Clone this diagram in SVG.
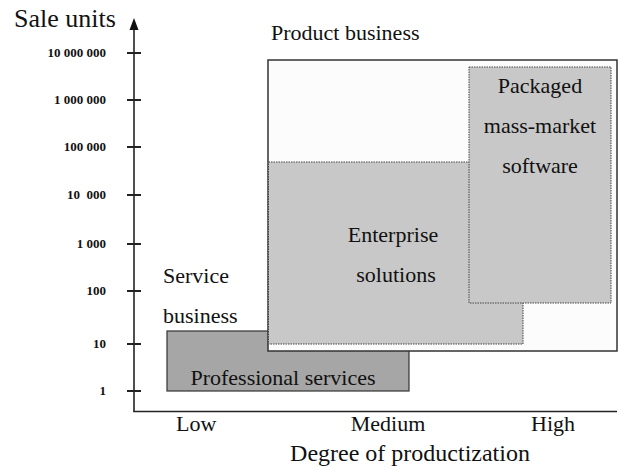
<svg xmlns="http://www.w3.org/2000/svg" width="618" height="470" viewBox="0 0 618 470">
<style>
text{font-family:"Liberation Serif","Times New Roman",serif;fill:#111}
.big{font-size:22px}
.tl{font-size:13px;font-weight:bold;text-anchor:end;white-space:pre}
.mid{text-anchor:middle}
.zone{fill:#c8c8c8;stroke:#444;stroke-width:1;stroke-dasharray:1.5 1}
.ax{stroke:#222;stroke-width:1.6;fill:none}
.tk{stroke:#222;stroke-width:2}
</style>
<rect width="618" height="470" fill="#fff"/>
<g id="axes">
<line class="ax" x1="134" y1="28" x2="134" y2="411.5"/>
<line class="ax" x1="133.2" y1="411.5" x2="617" y2="411.5"/>
<polygon points="134,18 129.5,30 138.5,30" fill="#111"/>
<text x="14" y="27" style="font-size:26px">Sale units</text>
<g>
<line class="tk" x1="127" y1="53" x2="141" y2="53"/>
<line class="tk" x1="127" y1="100" x2="141" y2="100"/>
<line class="tk" x1="127" y1="147" x2="141" y2="147"/>
<line class="tk" x1="127" y1="195" x2="141" y2="195"/>
<line class="tk" x1="127" y1="244" x2="141" y2="244"/>
<line class="tk" x1="127" y1="291" x2="141" y2="291"/>
<line class="tk" x1="127" y1="344" x2="141" y2="344"/>
<line class="tk" x1="127" y1="391" x2="141" y2="391"/>
</g>
<text class="tl" x="106" y="57">10 000 000</text>
<text class="tl" x="106" y="104">1 000 000</text>
<text class="tl" x="106" y="151">100 000</text>
<text class="tl" x="106" y="199">10  000</text>
<text class="tl" x="106" y="248">1 000</text>
<text class="tl" x="106" y="295">100</text>
<text class="tl" x="106" y="348">10</text>
<text class="tl" x="106" y="395">1</text>
<text class="big" x="176" y="431">Low</text>
<text class="big mid" x="388" y="431">Medium</text>
<text class="big mid" x="553" y="431">High</text>
<text x="410" y="461" class="mid" style="font-size:24px">Degree of productization</text>
</g>
<g id="professional-services">
<rect x="167" y="331" width="242" height="60" fill="#a6a6a6" stroke="#333" stroke-width="1.2"/>
<text class="big mid" x="283" y="385">Professional services</text>
</g>
<g id="service-business">
<text class="big" x="163" y="283">Service</text>
<text class="big" x="163" y="323">business</text>
</g>
<g id="product-business">
<rect x="268" y="60" width="349" height="291" fill="#fcfcfc" stroke="#333" stroke-width="1.5"/>
<text class="big" x="271" y="40">Product business</text>
</g>
<g id="enterprise-solutions">
<rect class="zone" x="268.5" y="162" width="254.5" height="182"/>
<text class="big mid" x="393" y="242">Enterprise</text>
<text class="big mid" x="396" y="282">solutions</text>
</g>
<g id="packaged-software">
<rect class="zone" x="469" y="67" width="142" height="236"/>
<text class="big mid" x="540" y="93">Packaged</text>
<text class="big mid" x="540" y="133">mass-market</text>
<text class="big mid" x="540" y="173">software</text>
</g>
</svg>
